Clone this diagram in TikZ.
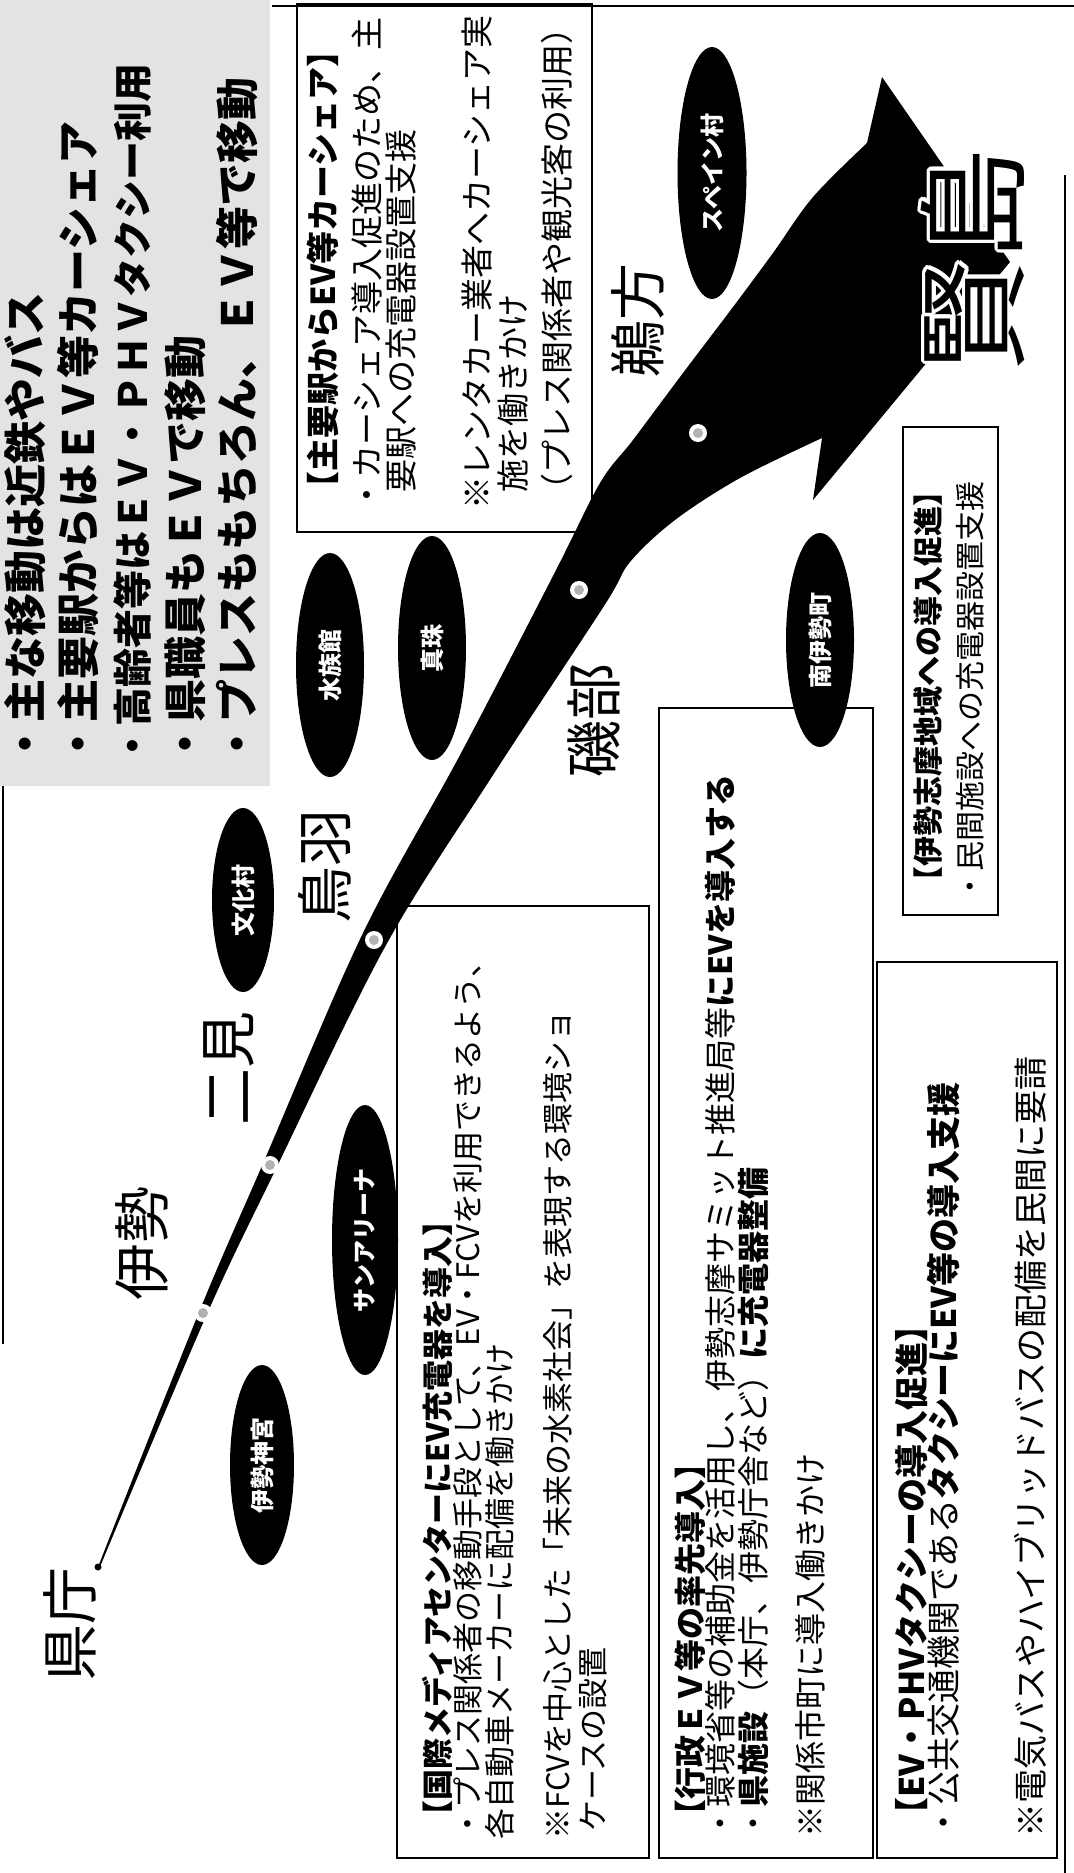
\documentclass[tikz,border=0pt]{standalone}
\usepackage{fontspec}
\setmainfont{Noto Sans CJK JP}
\usepackage{contour}
\contourlength{1.8pt}
\usetikzlibrary{shapes.geometric}
\newcommand{\jfs}[1]{\fontsize{#1}{#1}\selectfont}
\begin{document}
\begin{tikzpicture}[x=0.5pt,y=-0.5pt,
  tl/.style={rotate=90,anchor=west,inner sep=0pt},
  stn/.style={rotate=90,anchor=center,inner sep=0pt,font=\jfs{28.5pt}},
  spot/.style={ellipse,fill=black,inner sep=0pt,rotate=90,text=white,font=\jfs{12pt}\bfseries},
  bx/.style={draw=black,line width=0.7pt},
  sdot/.style={circle,fill=white,inner sep=0pt,minimum size=9pt},
  sdotin/.style={circle,fill=gray!60,inner sep=0pt,minimum size=5pt},
  frameline/.style={line width=0.8pt}]
\useasboundingbox (0,0) rectangle (1074,1873);

% page frame lines
\draw[frameline] (272,6) -- (1074,6);
\draw[frameline] (1065,175) -- (1065,1873);
\draw[frameline] (3,786) -- (3,1344);

% grey summary panel
\fill[gray!22] (0,0) rectangle (270,786);
\node[tl,font=\jfs{21.5pt}\bfseries] (g1) at (25,766) {・主な移動は近鉄やバス};
\node[tl,font=\jfs{21.5pt}\bfseries] (g2) at (78,766) {・主要駅からはＥＶ等カーシェア};
\node[tl,font=\jfs{19.5pt}\bfseries] (g3) at (133,766) {・高齢者等はＥＶ・ＰＨＶタクシー利用};
\node[tl,font=\jfs{21.5pt}\bfseries] (g4) at (185,766) {・県職員もＥＶで移動};
\node[tl,font=\jfs{21.5pt}\bfseries] (g5) at (237,766) {・プレスももちろん、ＥＶ等で移動};

% boxes
\draw[bx] (297,4) rectangle (592,532);
\draw[bx] (397,906) rectangle (649,1858);
\draw[bx] (659,708) rectangle (873,1858);
\draw[bx] (877,962) rectangle (1057,1858);
\draw[bx] (903,427) rectangle (998,915);

% box B
\node[tl,font=\jfs{16.5pt}\bfseries] (b1) at (323,505) {【主要駅からEV等カーシェア】};
\node[tl,font=\jfs{16.5pt}] (b2) at (367,512) {・カーシェア導入促進のため、主};
\node[tl,font=\jfs{16.5pt}] (b3) at (401,493) {要駅への充電器設置支援};
\node[tl,font=\jfs{16.5pt}] (b4) at (477,510) {※レンタカー業者へカーシェア実};
\node[tl,font=\jfs{16.5pt}] (b5) at (513,493) {施を働きかけ};
\node[tl,font=\jfs{16.5pt}] (b6) at (557,507) {（プレス関係者や観光客の利用）};

% box A
\node[tl,font=\jfs{15.5pt}\bfseries] (a1) at (437,1832) {【国際メディアセンターにEV充電器を導入】};
\node[tl,font=\jfs{15.5pt}] (a2) at (468,1840) {・プレス関係者の移動手段として、EV・FCVを利用できるよう、};
\node[tl,font=\jfs{15.5pt}] (a3) at (500,1840) {各自動車メーカーに配備を働きかけ};
\node[tl,font=\jfs{15.5pt}] (a4) at (558,1840) {※FCVを中心とした「未来の水素社会」を表現する環境ショ};
\node[tl,font=\jfs{15.5pt}] (a5) at (593,1832) {ケースの設置};

% box gyosei
\node[tl,font=\jfs{16pt}\bfseries] (r1) at (690,1832) {【行政ＥＶ等の率先導入】};
\node[tl,font=\jfs{16pt}] (r2) at (720,1840) {・環境省等の補助金を活用し、伊勢志摩サミット推進局等{\bfseries にEVを導入する}};
\node[tl,font=\jfs{16pt}] (r3) at (753,1840) {・{\bfseries 県施設}（本庁、伊勢庁舎など）{\bfseries に充電器整備}};
\node[tl,font=\jfs{16pt}] (r4) at (810,1838) {※関係市町に導入働きかけ};

% box taxi
\node[tl,font=\jfs{17pt}\bfseries] (e1) at (912,1832) {【EV・PHVタクシーの導入促進】};
\node[tl,font=\jfs{17pt}] (e2) at (943,1840) {・公共交通機関である{\bfseries タクシーにEV等の導入支援}};
\node[tl,font=\jfs{17pt}] (e3) at (1030,1838) {※電気バスやハイブリッドバスの配備を民間に要請};

% box ise-shima
\node[tl,font=\jfs{15pt}\bfseries] (s1) at (928,897) {【伊勢志摩地域への導入促進】};
\node[tl,font=\jfs{15pt}] (s2) at (970,902) {・民間施設への充電器設置支援};

% spots
\node[spot,minimum width=100pt,minimum height=32pt] (iseshrine) at (262,1465) {伊勢神宮};
\node[spot,minimum width=135pt,minimum height=33pt] (sunarena) at (365,1240) {サンアリーナ};
\node[spot,minimum width=92pt,minimum height=31pt] (bunka) at (243,900) {文化村};
\node[spot,minimum width=112pt,minimum height=34pt] (aqua) at (330,665) {水族館};
\node[spot,minimum width=112pt,minimum height=34pt] (pearl) at (432,648) {真珠};
\node[spot,minimum width=107pt,minimum height=34pt] (minami) at (820,640) {南伊勢町};
\node[spot,minimum width=126pt,minimum height=34.5pt] (spain) at (712,173) {スペイン村};

% route arrow
\fill[black] (98,1567) -- plot[smooth,tension=0.55] coordinates {(98,1567) (199.3,1311.4) (263.6,1162.1) (362.5,934.0) (460,755) (554,574) (600,483) (633,440) (683,373) (733,307) (773,253) (813,197) (867,143)}
  -- (882,77) -- (1010,262) -- (813,500) -- (822,438)
  -- plot[smooth,tension=0.55] coordinates {(822,438) (740,478) (675,520) (630,562) (604,606) (493,775) (385.5,946.0) (276.4,1167.9) (206.7,1314.6) (99.5,1568)} -- cycle;
\fill[black] (98,1567) circle[radius=3.5];

% station dots
\node[sdot] (d1) at (203,1313) {};
\node[sdot] (d2) at (270,1165) {};
\node[sdot] (d3) at (374,940) {};
\node[sdot] (d4) at (579,590) {};
\node[sdot] (d5) at (698,433) {};
\node[sdotin] (d1i) at (d1) {};
\node[sdotin] (d2i) at (d2) {};
\node[sdotin] (d3i) at (d3) {};
\node[sdotin] (d4i) at (d4) {};
\node[sdotin] (d5i) at (d5) {};

% station names
\node[stn] (kencho) at (70,1624) {県庁};
\node[stn] (ise) at (142,1243) {伊勢};
\node[stn] (futami) at (229,1068) {二見};
\node[stn] (toba) at (325,866) {鳥羽};
\node[stn] (isobe) at (594,720) {磯部};
\node[stn] (ugata) at (638,320) {鵜方};
\node[rotate=90,anchor=center,inner sep=0pt,font=\jfs{56pt}] (kashiko) at (975,260) {\contour{white}{賢島}};
\end{tikzpicture}
\end{document}
